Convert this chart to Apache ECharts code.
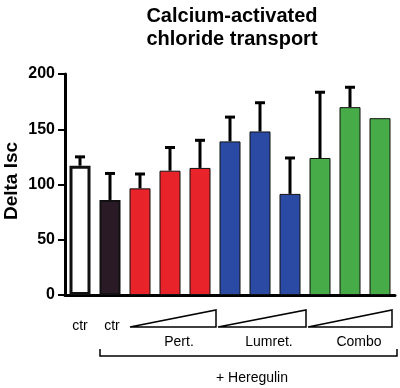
<!DOCTYPE html>
<html><head><meta charset="utf-8">
<script src="https://cdn.jsdelivr.net/npm/echarts@6/dist/echarts.min.js"></script>
<style>html,body{margin:0;padding:0;background:#fff}#c{width:400px;height:388px}</style>
</head><body><div id="c"></div>
<script>
const categories = ['ctr','ctr','P1','P2','P3','L1','L2','L3','C1','C2','C3'];
const means = [117, 86, 96.5, 112.5, 115, 139, 148, 91.5, 124, 170, 160];
const errTops = [125, 110, 109.5, 133.5, 140, 161, 174, 124, 183.5, 188, null];
const barColors = ['#ffffff','#2a1a26','#e8232a','#e8232a','#e8232a','#2b4aa3','#2b4aa3','#2b4aa3','#47ab47','#47ab47','#47ab47'];
const yTicks = [0, 50, 100, 150, 200];
const groupLabels = ['Pert.','Lumret.','Combo'];

const chart = echarts.init(document.getElementById('c'));
const font = 'Liberation Sans, Arial, sans-serif';
chart.setOption({
  animation: false,
  grid: {left: 65, right: 5, top: 74, bottom: 93, containLabel: false, outerBoundsMode: 'none'},
  xAxis: {
    type: 'category', data: categories,
    axisLine: {lineStyle: {color: '#000', width: 3}},
    axisTick: {alignWithLabel: true, length: 5, lineStyle: {color: '#000', width: 2}},
    axisLabel: {show: false}
  },
  yAxis: {
    type: 'value', min: 0, max: 200, interval: 50,
    axisLine: {show: true, lineStyle: {color: '#000', width: 3}},
    axisTick: {show: true, length: 7, lineStyle: {color: '#000', width: 2}},
    axisLabel: {fontFamily: font, fontWeight: 'bold', fontSize: 16, color: '#000', margin: 10,
      formatter: v => yTicks.includes(v) ? String(v) : ''},
    splitLine: {show: false}
  },
  series: [
    {
      type: 'bar', barWidth: 21, z: 2,
      data: means.map((v, i) => ({
        value: v,
        itemStyle: {color: barColors[i], borderColor: '#111', borderWidth: i === 0 ? 3 : (i === 1 ? 2 : 1)}
      }))
    },
    {
      type: 'custom', z: 1,
      data: means.map((v, i) => [i, v, errTops[i]]).filter(d => d[2] != null),
      renderItem: function (params, api) {
        const base = api.coord([api.value(0), api.value(1)]);
        const top = api.coord([api.value(0), api.value(2)]);
        const cw = 5;
        return {type: 'group', children: [
          {type: 'line', shape: {x1: base[0], y1: base[1], x2: top[0], y2: top[1]}, style: {stroke: '#000', lineWidth: 3}},
          {type: 'line', shape: {x1: top[0] - cw, y1: top[1], x2: top[0] + cw, y2: top[1]}, style: {stroke: '#000', lineWidth: 3}}
        ]};
      }
    }
  ]
});

function px(i) { return chart.convertToPixel({xAxisIndex: 0}, i); }
const gfx = [];
gfx.push({type: 'text', x: 232, y: 5, style: {text: 'Calcium-activated\nchloride transport', fontFamily: font, fontWeight: 'bold', fontSize: 20, lineHeight: 23, fill: '#000', align: 'center'}});
gfx.push({type: 'text', x: 12, y: 181, rotation: Math.PI / 2, style: {text: 'Delta Isc', fontFamily: font, fontWeight: 'bold', fontSize: 19, fill: '#000', align: 'center', verticalAlign: 'middle'}});
gfx.push({type: 'text', x: px(0), y: 326, style: {text: 'ctr', fontFamily: font, fontSize: 14, fill: '#000', align: 'center', verticalAlign: 'middle'}});
gfx.push({type: 'text', x: px(1) + 2, y: 326, style: {text: 'ctr', fontFamily: font, fontSize: 14, fill: '#000', align: 'center', verticalAlign: 'middle'}});
const groups = [[2, 4], [5, 7], [8, 10]];
groups.forEach((g, k) => {
  const x1 = px(g[0]) - 10 + (k === 0 ? 0 : -2);
  const x2 = px(g[1]) + 16 - (k === 2 ? 4 : 0);
  gfx.push({type: 'polygon', shape: {points: [[x1, 327], [x2, 327], [x2, 310]]}, style: {fill: '#fff', stroke: '#000', lineWidth: 1.5}});
  gfx.push({type: 'text', x: px(g[0] + 1) + 9, y: 342, style: {text: groupLabels[k], fontFamily: font, fontSize: 14, fill: '#000', align: 'center', verticalAlign: 'middle'}});
});
gfx.push({type: 'polyline', shape: {points: [[100, 349], [100, 356], [397, 356], [397, 349]]}, style: {stroke: '#000', lineWidth: 1.5, fill: null}});
gfx.push({type: 'text', x: 252, y: 378, style: {text: '+ Heregulin', fontFamily: font, fontSize: 14, fill: '#000', align: 'center', verticalAlign: 'middle'}});
chart.setOption({graphic: gfx});
</script>
</body></html>
